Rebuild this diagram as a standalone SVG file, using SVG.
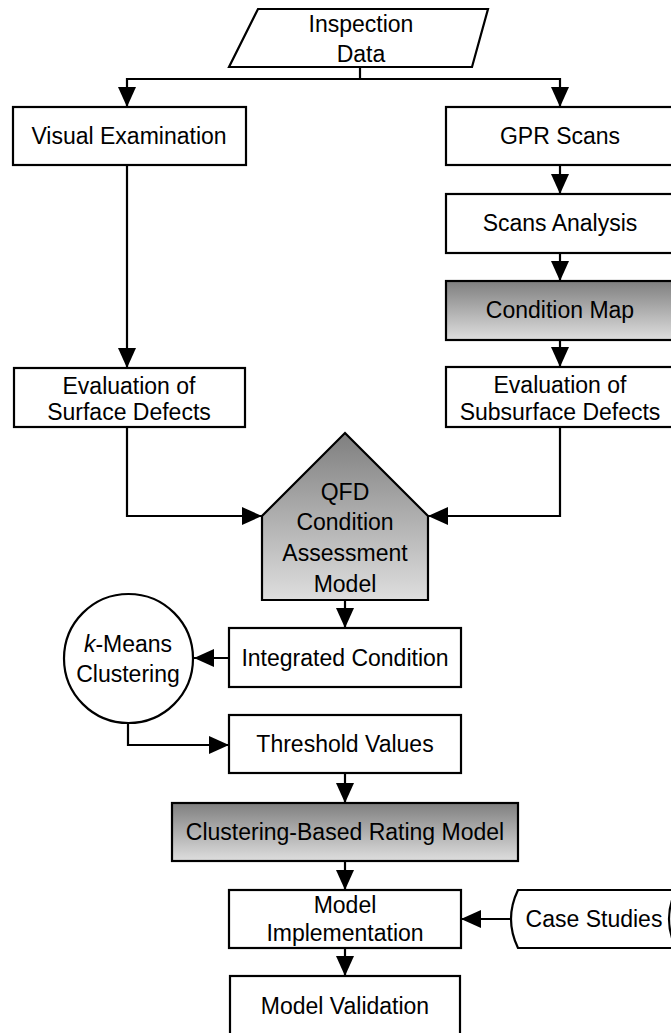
<svg xmlns="http://www.w3.org/2000/svg" width="671" height="1033" viewBox="0 0 671 1033">
<defs>
<linearGradient id="g" x1="0" y1="0" x2="0" y2="1">
<stop offset="0" stop-color="#7f7f7f"/>
<stop offset="1" stop-color="#dedede"/>
</linearGradient>
<marker id="ah" markerUnits="userSpaceOnUse" markerWidth="20" markerHeight="18" refX="20" refY="9" orient="auto">
<path d="M0,0 L20,9 L0,18 Z" fill="#000"/>
</marker>
<style>
.n{fill:#fff;stroke:#000;stroke-width:2.2}
.s{fill:url(#g);stroke:#000;stroke-width:2.2}
.t{font-family:"Liberation Sans",Arial,sans-serif;font-size:23px;fill:#000;text-anchor:middle}
.c{fill:none;stroke:#000;stroke-width:2.2;marker-end:url(#ah)}
.p{fill:none;stroke:#000;stroke-width:2.2}
</style>
</defs>
<rect width="671" height="1033" fill="#fff"/>
<g id="connectors">
<path class="p" d="M360,67 V79"/>
<path class="c" d="M360,79 H127 V107"/>
<path class="c" d="M360,79 H560 V107"/>
<path class="c" d="M127,165 V368"/>
<path class="c" d="M560,165 V194"/>
<path class="c" d="M560,253 V281"/>
<path class="c" d="M560,340 V367"/>
<path class="c" d="M127,427 V516 H262"/>
<path class="c" d="M560,427 V516 H428"/>
<path class="c" d="M345,600 V628"/>
<path class="c" d="M229,658 H194"/>
<path class="c" d="M128,723 V745 H229"/>
<path class="c" d="M345,773 V803"/>
<path class="c" d="M345,861 V890"/>
<path class="c" d="M512,919 H461"/>
<path class="c" d="M345,948 V976"/>
</g>
<g id="inspection-data">
<polygon class="n" points="258,9 488,9 472,67 229,67"/>
<text class="t" x="361" y="32">Inspection</text>
<text class="t" x="361" y="62">Data</text>
</g>
<g id="visual-examination">
<rect class="n" x="13" y="107" width="233" height="58"/>
<text class="t" x="129" y="144">Visual Examination</text>
</g>
<g id="gpr-scans">
<rect class="n" x="446" y="107" width="240" height="58"/>
<text class="t" x="560" y="144">GPR Scans</text>
</g>
<g id="scans-analysis">
<rect class="n" x="446" y="194" width="240" height="59"/>
<text class="t" x="560" y="231">Scans Analysis</text>
</g>
<g id="condition-map">
<rect class="s" x="446" y="281" width="240" height="59"/>
<text class="t" x="560" y="318">Condition Map</text>
</g>
<g id="eval-subsurface">
<rect class="n" x="446" y="367" width="240" height="60"/>
<text class="t" x="560" y="393">Evaluation of</text>
<text class="t" x="560" y="420">Subsurface Defects</text>
</g>
<g id="eval-surface">
<rect class="n" x="14" y="368" width="231" height="59"/>
<text class="t" x="129" y="394">Evaluation of</text>
<text class="t" x="129" y="420">Surface Defects</text>
</g>
<g id="qfd-model">
<polygon class="s" points="345,433 428,516 428,600 262,600 262,516"/>
<text class="t" x="345" y="500">QFD</text>
<text class="t" x="345" y="530">Condition</text>
<text class="t" x="345" y="561">Assessment</text>
<text class="t" x="345" y="592">Model</text>
</g>
<g id="integrated-condition">
<rect class="n" x="229" y="628" width="232" height="59"/>
<text class="t" x="345" y="666">Integrated Condition</text>
</g>
<g id="k-means">
<circle class="n" cx="128.5" cy="658.5" r="64.5"/>
<text class="t" x="128" y="652"><tspan font-style="italic">k</tspan>-Means</text>
<text class="t" x="128" y="682">Clustering</text>
</g>
<g id="threshold-values">
<rect class="n" x="229" y="715" width="232" height="58"/>
<text class="t" x="345" y="752">Threshold Values</text>
</g>
<g id="rating-model">
<rect class="s" x="172" y="803" width="346" height="58"/>
<text class="t" x="345" y="840">Clustering-Based Rating Model</text>
</g>
<g id="model-implementation">
<rect class="n" x="229" y="890" width="232" height="58"/>
<text class="t" x="345" y="913">Model</text>
<text class="t" x="345" y="941">Implementation</text>
</g>
<g id="case-studies">
<path class="n" d="M518,890 H690 Q662,919 690,948 H518 Q504,919 518,890 Z"/>
<path class="p" d="M676,890 Q662,919 676,948"/>
<text class="t" x="594" y="927">Case Studies</text>
</g>
<g id="model-validation">
<rect class="n" x="230" y="976" width="230" height="70"/>
<text class="t" x="345" y="1014">Model Validation</text>
</g>
</svg>
